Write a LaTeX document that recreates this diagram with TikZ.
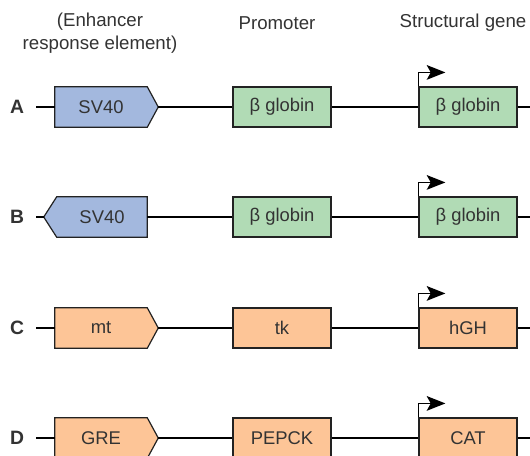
\documentclass[tikz,border=0pt]{standalone}
\usepackage{fontspec}
\setmainfont{Liberation Sans}
\usetikzlibrary{arrows.meta,calc,backgrounds}
\definecolor{eblue}{HTML}{A3B8DE}
\definecolor{pgreen}{HTML}{B1DBB5}
\definecolor{orng}{HTML}{FDC597}
\definecolor{txt}{HTML}{333333}
\definecolor{edge}{HTML}{222222}
\begin{document}
\begin{tikzpicture}[x=0.75pt,y=-0.75pt,
  boxtext/.style={font=\fontsize{13.8}{16}\selectfont,text=txt,inner sep=0pt,minimum height=30pt,anchor=center},
  ebody/.style={boxtext,minimum width=69pt},
  gbox/.style={boxtext,draw=edge,line width=0.9pt,minimum width=73.5pt},
  header/.style={font=\fontsize{14}{17}\selectfont,text=txt,align=center},
  rowlabel/.style={font=\fontsize{14.5}{17}\selectfont\bfseries,text=txt},
  wire/.style={draw=black,line width=1pt},
  pent/.style={draw=edge,line width=0.9pt},
  startarrow/.style={draw=black,line width=1.1pt,-{Stealth[length=14pt,width=11pt,inset=3pt]}}
]
\useasboundingbox (0,0) rectangle (530,455);

% headers
\node[header] (h1) at (100,33) {(Enhancer\\response element)};
\node[header] (h2) at (277,23) {Promoter};
\node[header] (h3) at (463,23) {Structural gene};

% rows
\foreach \r/\y/\ea/\pa/\sa/\col in {A/107/SV40/β globin/β globin/pgreen,
                                    C/328/mt/tk/hGH/orng,
                                    D/438/GRE/PEPCK/CAT/orng}{
  \node[rowlabel] (L\r) at (17,\y) {\r};
  \coordinate (w\r) at (36,\y);
  \node[ebody] (e\r) at (101,\y) {\ea};
  \coordinate (t\r) at ($(e\r.east)+(11,0)$);
  \node[gbox,fill=\col] (p\r) at (282,\y) {\pa};
  \node[gbox,fill=\col] (s\r) at (468,\y) {\sa};
  \coordinate (x\r) at (535,\y);
  \draw[wire] (w\r) -- (e\r.west);
  \draw[wire] (t\r) -- (p\r.west);
  \draw[wire] (p\r.east) -- (s\r.west);
  \draw[wire] (s\r.east) -- (x\r);
  \draw[startarrow] (s\r.north west) -- ++(0,-14) -- ++(27,0);
}

% row B (reversed enhancer)
\node[rowlabel] (LB) at (17,217) {B};
\coordinate (wB) at (36,217);
\node[boxtext,minimum width=67.5pt] (eB) at (102,217) {SV40};
\coordinate (tB) at ($(eB.west)+(-13,0)$);
\node[gbox,fill=pgreen] (pB) at (282,217) {β globin};
\node[gbox,fill=pgreen] (sB) at (468,217) {β globin};
\coordinate (xB) at (535,217);
\draw[wire] (wB) -- (tB);
\draw[wire] (eB.east) -- (pB.west);
\draw[wire] (pB.east) -- (sB.west);
\draw[wire] (sB.east) -- (xB);
\draw[startarrow] (sB.north west) -- ++(0,-14) -- ++(27,0);

\begin{scope}[on background layer]
  \foreach \r/\col in {A/eblue,C/orng,D/orng}{
    \path[pent,fill=\col] (e\r.north west) -- (e\r.north east) -- (t\r) -- (e\r.south east) -- (e\r.south west) -- cycle;
  }
  \path[pent,fill=eblue] (eB.north east) -- (eB.north west) -- (tB) -- (eB.south west) -- (eB.south east) -- cycle;
\end{scope}
\end{tikzpicture}
\end{document}
